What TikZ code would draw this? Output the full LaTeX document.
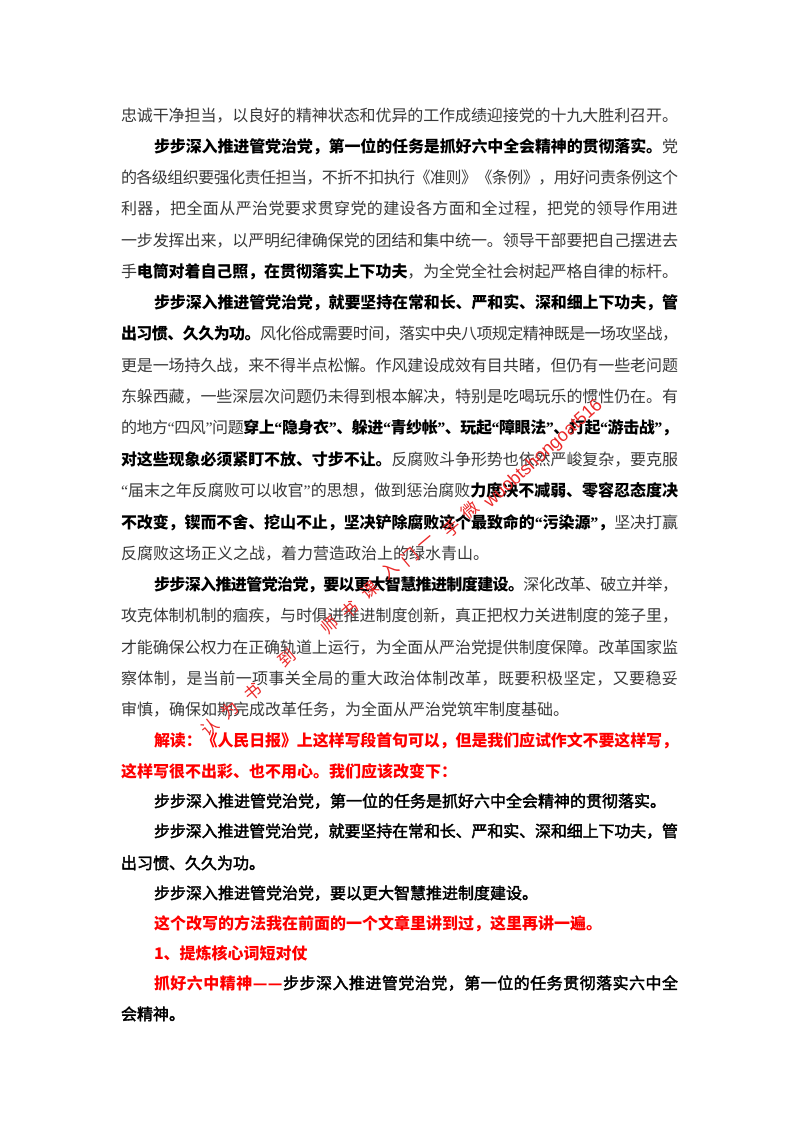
\documentclass[tikz,border=0pt]{standalone}
\usepackage{fontspec}
\setmainfont{Noto Sans CJK SC}
\newfontfamily\wmlatin{Liberation Sans}
\newfontfamily\qfont{Liberation Serif}
\definecolor{bodygray}{gray}{0.22}
\definecolor{redtext}{RGB}{255,0,0}
\definecolor{wmred}{RGB}{235,40,40}
\newcount\cjkcnt
\newcommand{\setclassrange}[2]{\cjkcnt=#1\relax
  \loop\ifnum\cjkcnt<#2\relax\XeTeXcharclass\cjkcnt=1\relax\advance\cjkcnt by 1\repeat}
\setclassrange{"4E00}{"A000}
\setclassrange{"3000}{"3040}
\setclassrange{"FF00}{"FFF0}
\setclassrange{"2014}{"2015}
\XeTeXcharclass`1=1\relax
\newcommand{\gl}{\hskip 0pt plus 1fil minus 1fil\relax}
\XeTeXinterchartoks 1 1 = {\gl}
\newcommand{\qL}{\gl{\qfont “}\gl}
\newcommand{\qR}{\gl{\qfont ”}\gl}
\newcommand{\bd}[1]{{\color{black}\bfseries #1}}
\newcommand{\md}[1]{{\color{black}\special{pdf:code 2 Tr 0.35 w}#1\special{pdf:code 0 Tr 1 w}}}
\newcommand{\rd}[1]{{\color{redtext}\bfseries #1}}
\tikzset{
  txtline/.style={inner sep=0pt,outer sep=0pt,anchor=base west,text=bodygray,font=\fontsize{16}{16}\selectfont},
  wmchar/.style={inner sep=0pt,rotate=40,text=wmred,font=\fontsize{17}{17}\selectfont},
  wmtext/.style={inner sep=0pt,rotate=42,anchor=west,text=wmred,font=\fontsize{18}{18}\selectfont\wmlatin},
}
% name, centre y, x, width, text
\newcommand{\jline}[5]{\node[txtline] (#1) at (#3,{#2+6}) {\hbox to #4pt{#5}};}
\newcommand{\nline}[4]{\node[txtline] (#1) at (#3,{#2+6}) {\hbox{#4}};}
\begin{document}
\begin{tikzpicture}[x=1pt,y=-1pt]
\XeTeXinterchartokenstate=1
\useasboundingbox (0,0) rectangle (800,1132);
\fill[white] (0,0) rectangle (800,1132);
\jline{a0}{115}{121}{557}{忠诚干净担当，以良好的精神状态和优异的工作成绩迎接党的十九大胜利召开。}
\jline{a1}{146}{154}{524}{\bd{步步深入推进管党治党，第一位的任务是抓好六中全会精神的贯彻落实。}\gl 党}
\jline{a2}{177}{121}{557}{的各级组织要强化责任担当，不折不扣执行《准则》《条例》，用好问责条例这个}
\jline{a3}{208}{121}{557}{利器，把全面从严治党要求贯穿党的建设各方面和全过程，把党的领导作用进}
\jline{a4}{240}{121}{557}{一步发挥出来，以严明纪律确保党的团结和集中统一。领导干部要把自己摆进去}
\jline{a5}{271}{121}{557}{手\gl\bd{电筒对着自己照，在贯彻落实上下功夫}\gl ，为全党全社会树起严格自律的标杆。}
\jline{a6}{302}{154}{524}{\bd{步步深入推进管党治党，就要坚持在常和长、严和实、深和细上下功夫，管}}
\jline{a7}{333}{121}{557}{\bd{出习惯、久久为功。}\gl 风化俗成需要时间，落实中央八项规定精神既是一场攻坚战，}
\jline{a8}{365}{121}{557}{更是一场持久战，来不得半点松懈。作风建设成效有目共睹，但仍有一些老问题}
\jline{a9}{396}{121}{557}{东躲西藏，一些深层次问题仍未得到根本解决，特别是吃喝玩乐的惯性仍在。有}
\jline{a10}{427}{121}{557}{的地方\qL 四风\qR 问题\gl\bd{穿上\qL 隐身衣\qR 、躲进\qL 青纱帐\qR 、玩起\qL 障眼法\qR 、打起\qL 游击战\qR ，}}
\jline{a11}{459}{121}{557}{\bd{对这些现象必须紧盯不放、寸步不让。}\gl 反腐败斗争形势也依然严峻复杂，要克服}
\jline{a12}{490}{121}{557}{{\qfont “}\gl 届末之年反腐败可以收官\qR 的思想，做到惩治腐败\gl\bd{力度决不减弱、零容忍态度决}}
\jline{a13}{522}{121}{557}{\bd{不改变，锲而不舍、挖山不止，坚决铲除腐败这个最致命的\qL 污染源\qR ，}\gl 坚决打赢}
\nline{a14}{553}{121}{反腐败这场正义之战，着力营造政治上的绿水青山。}
\jline{a15}{584}{154}{524}{\bd{步步深入推进管党治党，要以更大智慧推进制度建设。}\gl 深化改革、破立并举，}
\jline{a16}{615}{121}{557}{攻克体制机制的痼疾，与时俱进推进制度创新，真正把权力关进制度的笼子里，}
\jline{a17}{647}{121}{557}{才能确保公权力在正确轨道上运行，为全面从严治党提供制度保障。改革国家监}
\jline{a18}{678}{121}{557}{察体制，是当前一项事关全局的重大政治体制改革，既要积极坚定，又要稳妥}
\nline{a19}{709}{121}{审慎，确保如期完成改革任务，为全面从严治党筑牢制度基础。}
\jline{a20}{740}{154}{524}{\rd{解读：《人民日报》上这样写段首句可以，但是我们应试作文不要这样写，}}
\nline{a21}{771}{121}{\rd{这样写很不出彩、也不用心。我们应该改变下：}}
\nline{a22}{801}{154}{\md{步步深入推进管党治党，第一位的任务是抓好六中全会精神的贯彻落实。}}
\jline{a23}{831}{154}{524}{\md{步步深入推进管党治党，就要坚持在常和长、严和实、深和细上下功夫，管}}
\nline{a24}{863}{121}{\md{出习惯、久久为功。}}
\nline{a25}{893}{154}{\md{步步深入推进管党治党，要以更大智慧推进制度建设。}}
\nline{a26}{923}{154}{\rd{这个改写的方法我在前面的一个文章里讲到过，这里再讲一遍。}}
\nline{a27}{953}{154}{\rd{1、提炼核心词短对仗}}
\jline{a28}{983}{154}{524}{\rd{抓好六中精神——}\gl\md{步步深入推进管党治党，第一位的任务贯彻落实六中全}}
\nline{a29}{1014}{121}{\md{会精神。}}
% watermark
\node[wmchar] (w1) at (210,727) {认};
\node[wmchar] (w2) at (230,710) {为};
\node[wmchar] (w3) at (253,692) {书};
\node[wmchar] (w4) at (287,658) {到};
\node[wmchar] (w5) at (330,625) {师};
\node[wmchar] (w6) at (350,610) {书};
\node[wmchar] (w7) at (370,590) {课};
\node[wmchar] (w8) at (390,570) {入};
\node[wmchar] (w9) at (410,557) {门};
\node[wmchar] (w10) at (427,543) {一};
\node[wmchar] (w11) at (452,528) {手};
\node[wmchar] (w12) at (470,510) {微};
\node[wmtext] (w13) at (487,505) {wuobtshongoat516};
\end{tikzpicture}
\end{document}
